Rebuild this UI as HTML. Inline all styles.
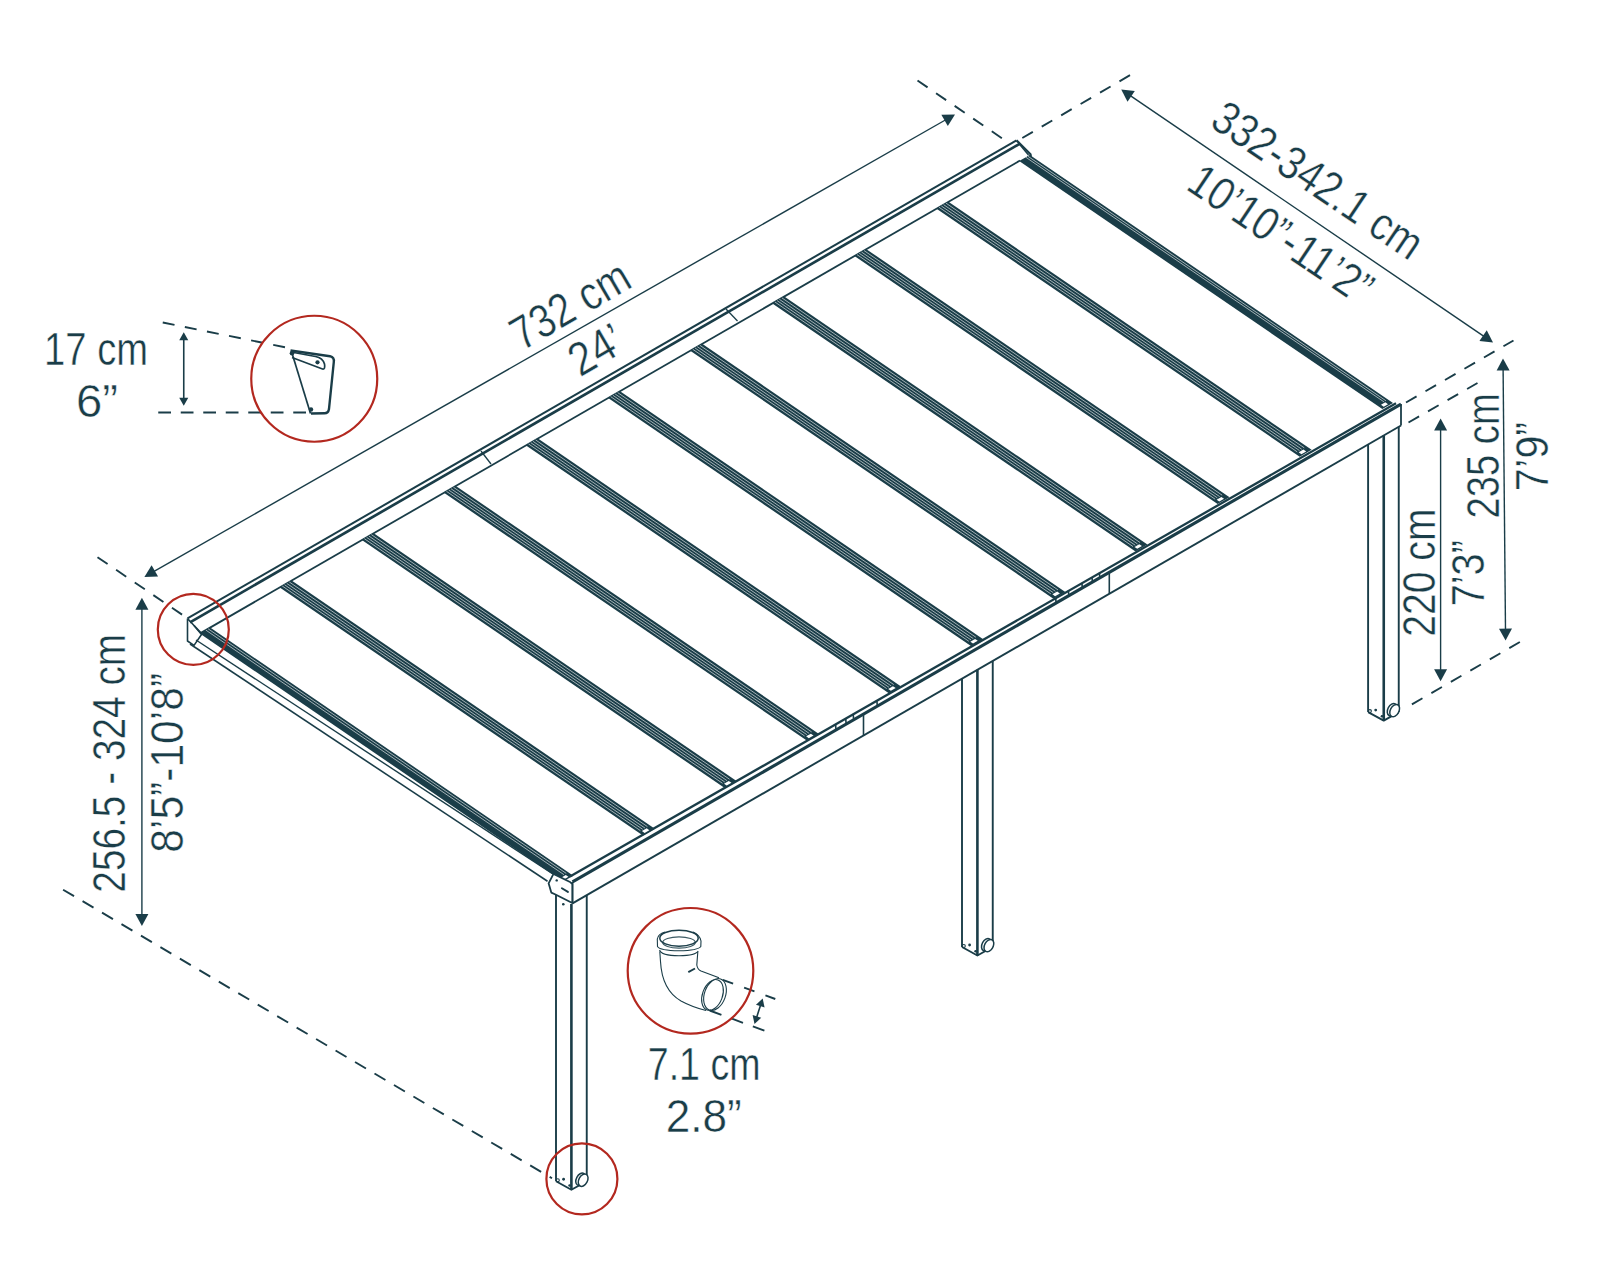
<!DOCTYPE html>
<html><head><meta charset="utf-8"><style>
html,body{margin:0;padding:0;background:#fff;}
svg{display:block;}
</style></head><body>
<svg width="1600" height="1280" viewBox="0 0 1600 1280">
<rect width="1600" height="1280" fill="#fff"/>
<line x1="187.5" y1="618.46" x2="1016.5" y2="140.38" stroke="#1a3d48" stroke-width="2.0" />
<line x1="190" y1="622.32" x2="1020" y2="143.66" stroke="#1a3d48" stroke-width="2.7" />
<line x1="201" y1="632.88" x2="1020" y2="160.56" stroke="#1a3d48" stroke-width="1.8" />
<polyline points="1016.5,140.38 1030.5,154.2 1030.8,156.2 1027.5,157" fill="none" stroke="#1a3d48" stroke-width="2.2" stroke-linejoin="round" />
<line x1="1019.3" y1="144.07" x2="1028.5" y2="155" stroke="#1a3d48" stroke-width="1.4" />
<polyline points="187.5,618.46 187.5,641 194,645.4 201.5,634.5 194,625.5 187.5,618.46" fill="none" stroke="#1a3d48" stroke-width="1.6" stroke-linejoin="round" />
<line x1="194" y1="625.5" x2="201" y2="632.88" stroke="#1a3d48" stroke-width="1.6" />
<line x1="481" y1="451" x2="491" y2="464" stroke="#1a3d48" stroke-width="1.3" />
<line x1="726" y1="309" x2="737.5" y2="321" stroke="#1a3d48" stroke-width="1.3" />
<line x1="570" y1="876.6" x2="1396" y2="403.3" stroke="#1a3d48" stroke-width="2.3" />
<line x1="572.5" y1="881.93" x2="1401" y2="404.13" stroke="#1a3d48" stroke-width="3.1" />
<line x1="572.5" y1="903.33" x2="1401" y2="425.53" stroke="#1a3d48" stroke-width="1.9" />
<line x1="572.5" y1="881.93" x2="572.5" y2="903.33" stroke="#1a3d48" stroke-width="1.8" />
<line x1="1401" y1="404" x2="1401" y2="425.6" stroke="#1a3d48" stroke-width="1.8" />
<line x1="1109.3" y1="572.36" x2="1109.3" y2="593.76" stroke="#1a3d48" stroke-width="1.6" />
<line x1="1055.7" y1="597.97" x2="1056.1" y2="602.77" stroke="#1a3d48" stroke-width="1.6" />
<line x1="1068.4" y1="590.64" x2="1068.8" y2="595.44" stroke="#1a3d48" stroke-width="1.6" />
<line x1="1081.9" y1="582.86" x2="1082.3" y2="587.66" stroke="#1a3d48" stroke-width="1.6" />
<line x1="1092" y1="577.03" x2="1092.4" y2="581.83" stroke="#1a3d48" stroke-width="1.6" />
<line x1="1099.4" y1="572.77" x2="1099.8" y2="577.57" stroke="#1a3d48" stroke-width="1.6" />
<line x1="835.6" y1="724.9" x2="836" y2="729.7" stroke="#1a3d48" stroke-width="1.6" />
<line x1="845.75" y1="719.05" x2="846.15" y2="723.85" stroke="#1a3d48" stroke-width="1.6" />
<line x1="853.25" y1="714.72" x2="853.65" y2="719.52" stroke="#1a3d48" stroke-width="1.6" />
<line x1="876.9" y1="701.08" x2="877.3" y2="705.88" stroke="#1a3d48" stroke-width="1.6" />
<line x1="863.5" y1="714.11" x2="863.5" y2="735.51" stroke="#1a3d48" stroke-width="1.6" />
<polygon points="948.45,201.82 1311.63,449.87 1299.72,456.74 936.55,208.69" fill="#1a3d48" stroke="none" stroke-width="0"/>
<line x1="946.07" y1="203.2" x2="1304.25" y2="447.83" stroke="#ffffff" stroke-width="0.8" opacity="0.75"/>
<line x1="943.57" y1="204.64" x2="1301.75" y2="449.27" stroke="#ffffff" stroke-width="0.8" opacity="0.75"/>
<line x1="941.31" y1="205.94" x2="1299.49" y2="450.58" stroke="#ffffff" stroke-width="0.8" opacity="0.75"/>
<line x1="939.05" y1="207.25" x2="1297.22" y2="451.88" stroke="#ffffff" stroke-width="0.8" opacity="0.75"/>
<polygon points="1303.46,449.54 1298.7,452.29 1301.4,454.13 1306.16,451.39" fill="#ffffff" stroke="none" stroke-width="0"/>
<polygon points="866.35,249.17 1229.53,497.22 1217.62,504.09 854.45,256.04" fill="#1a3d48" stroke="none" stroke-width="0"/>
<line x1="863.97" y1="250.54" x2="1222.15" y2="495.18" stroke="#ffffff" stroke-width="0.8" opacity="0.75"/>
<line x1="861.47" y1="251.99" x2="1219.65" y2="496.62" stroke="#ffffff" stroke-width="0.8" opacity="0.75"/>
<line x1="859.21" y1="253.29" x2="1217.39" y2="497.92" stroke="#ffffff" stroke-width="0.8" opacity="0.75"/>
<line x1="856.95" y1="254.59" x2="1215.12" y2="499.23" stroke="#ffffff" stroke-width="0.8" opacity="0.75"/>
<polygon points="1221.36,496.89 1216.6,499.64 1219.3,501.48 1224.06,498.74" fill="#ffffff" stroke="none" stroke-width="0"/>
<polygon points="784.25,296.52 1147.43,544.57 1135.52,551.43 772.35,303.38" fill="#1a3d48" stroke="none" stroke-width="0"/>
<line x1="781.87" y1="297.89" x2="1140.05" y2="542.53" stroke="#ffffff" stroke-width="0.8" opacity="0.75"/>
<line x1="779.37" y1="299.33" x2="1137.55" y2="543.97" stroke="#ffffff" stroke-width="0.8" opacity="0.75"/>
<line x1="777.11" y1="300.64" x2="1135.29" y2="545.27" stroke="#ffffff" stroke-width="0.8" opacity="0.75"/>
<line x1="774.85" y1="301.94" x2="1133.02" y2="546.58" stroke="#ffffff" stroke-width="0.8" opacity="0.75"/>
<polygon points="1139.26,544.24 1134.5,546.99 1137.2,548.83 1141.96,546.08" fill="#ffffff" stroke="none" stroke-width="0"/>
<polygon points="702.15,343.86 1065.33,591.91 1053.42,598.78 690.25,350.73" fill="#1a3d48" stroke="none" stroke-width="0"/>
<line x1="699.77" y1="345.24" x2="1057.95" y2="589.87" stroke="#ffffff" stroke-width="0.8" opacity="0.75"/>
<line x1="697.27" y1="346.68" x2="1055.45" y2="591.31" stroke="#ffffff" stroke-width="0.8" opacity="0.75"/>
<line x1="695.01" y1="347.98" x2="1053.19" y2="592.62" stroke="#ffffff" stroke-width="0.8" opacity="0.75"/>
<line x1="692.75" y1="349.29" x2="1050.92" y2="593.92" stroke="#ffffff" stroke-width="0.8" opacity="0.75"/>
<polygon points="1057.16,591.59 1052.4,594.33 1055.1,596.18 1059.86,593.43" fill="#ffffff" stroke="none" stroke-width="0"/>
<polygon points="620.05,391.21 983.23,639.26 971.32,646.13 608.15,398.08" fill="#1a3d48" stroke="none" stroke-width="0"/>
<line x1="617.67" y1="392.58" x2="975.85" y2="637.22" stroke="#ffffff" stroke-width="0.8" opacity="0.75"/>
<line x1="615.17" y1="394.03" x2="973.35" y2="638.66" stroke="#ffffff" stroke-width="0.8" opacity="0.75"/>
<line x1="612.91" y1="395.33" x2="971.09" y2="639.97" stroke="#ffffff" stroke-width="0.8" opacity="0.75"/>
<line x1="610.65" y1="396.64" x2="968.82" y2="641.27" stroke="#ffffff" stroke-width="0.8" opacity="0.75"/>
<polygon points="975.06,638.93 970.3,641.68 973,643.52 977.76,640.78" fill="#ffffff" stroke="none" stroke-width="0"/>
<polygon points="537.95,438.56 901.13,686.61 889.22,693.48 526.05,445.43" fill="#1a3d48" stroke="none" stroke-width="0"/>
<line x1="535.57" y1="439.93" x2="893.75" y2="684.57" stroke="#ffffff" stroke-width="0.8" opacity="0.75"/>
<line x1="533.07" y1="441.37" x2="891.25" y2="686.01" stroke="#ffffff" stroke-width="0.8" opacity="0.75"/>
<line x1="530.81" y1="442.68" x2="888.99" y2="687.31" stroke="#ffffff" stroke-width="0.8" opacity="0.75"/>
<line x1="528.55" y1="443.98" x2="886.72" y2="688.62" stroke="#ffffff" stroke-width="0.8" opacity="0.75"/>
<polygon points="892.96,686.28 888.2,689.03 890.9,690.87 895.66,688.12" fill="#ffffff" stroke="none" stroke-width="0"/>
<polygon points="455.85,485.91 819.03,733.95 807.12,740.82 443.95,492.77" fill="#1a3d48" stroke="none" stroke-width="0"/>
<line x1="453.47" y1="487.28" x2="811.65" y2="731.91" stroke="#ffffff" stroke-width="0.8" opacity="0.75"/>
<line x1="450.97" y1="488.72" x2="809.15" y2="733.36" stroke="#ffffff" stroke-width="0.8" opacity="0.75"/>
<line x1="448.71" y1="490.03" x2="806.89" y2="734.66" stroke="#ffffff" stroke-width="0.8" opacity="0.75"/>
<line x1="446.45" y1="491.33" x2="804.62" y2="735.96" stroke="#ffffff" stroke-width="0.8" opacity="0.75"/>
<polygon points="810.86,733.63 806.1,736.37 808.8,738.22 813.56,735.47" fill="#ffffff" stroke="none" stroke-width="0"/>
<polygon points="373.75,533.25 736.93,781.3 725.02,788.17 361.85,540.12" fill="#1a3d48" stroke="none" stroke-width="0"/>
<line x1="371.37" y1="534.63" x2="729.55" y2="779.26" stroke="#ffffff" stroke-width="0.8" opacity="0.75"/>
<line x1="368.87" y1="536.07" x2="727.05" y2="780.7" stroke="#ffffff" stroke-width="0.8" opacity="0.75"/>
<line x1="366.61" y1="537.37" x2="724.79" y2="782.01" stroke="#ffffff" stroke-width="0.8" opacity="0.75"/>
<line x1="364.35" y1="538.68" x2="722.52" y2="783.31" stroke="#ffffff" stroke-width="0.8" opacity="0.75"/>
<polygon points="728.76,780.97 724,783.72 726.7,785.56 731.46,782.82" fill="#ffffff" stroke="none" stroke-width="0"/>
<polygon points="291.65,580.6 654.83,828.65 642.92,835.52 279.75,587.47" fill="#1a3d48" stroke="none" stroke-width="0"/>
<line x1="289.27" y1="581.97" x2="647.45" y2="826.61" stroke="#ffffff" stroke-width="0.8" opacity="0.75"/>
<line x1="286.77" y1="583.41" x2="644.95" y2="828.05" stroke="#ffffff" stroke-width="0.8" opacity="0.75"/>
<line x1="284.51" y1="584.72" x2="642.69" y2="829.35" stroke="#ffffff" stroke-width="0.8" opacity="0.75"/>
<line x1="282.25" y1="586.02" x2="640.42" y2="830.66" stroke="#ffffff" stroke-width="0.8" opacity="0.75"/>
<polygon points="646.66,828.32 641.9,831.07 644.6,832.91 649.36,830.16" fill="#ffffff" stroke="none" stroke-width="0"/>
<polygon points="1029.86,154.88 1393.04,402.93 1382.32,409.11 1019.14,161.06" fill="#1a3d48" stroke="none" stroke-width="0"/>
<line x1="1027.72" y1="156.11" x2="1385.89" y2="400.75" stroke="#ffffff" stroke-width="0.8" opacity="0.75"/>
<line x1="1025.79" y1="157.23" x2="1383.96" y2="401.86" stroke="#ffffff" stroke-width="0.8" opacity="0.75"/>
<polygon points="1385.28,402.36 1381,404.83 1383.7,406.67 1387.98,404.2" fill="#ffffff" stroke="none" stroke-width="0"/>
<polygon points="210.16,627.6 573.34,875.65 563.02,881.6 199.84,633.55" fill="#1a3d48" stroke="none" stroke-width="0"/>
<line x1="208.1" y1="628.79" x2="566.27" y2="873.42" stroke="#ffffff" stroke-width="0.8" opacity="0.75"/>
<line x1="205.83" y1="630.1" x2="564" y2="874.73" stroke="#ffffff" stroke-width="0.8" opacity="0.75"/>
<polygon points="565.72,875 561.6,877.38 564.3,879.22 568.42,876.84" fill="#ffffff" stroke="none" stroke-width="0"/>
<line x1="196" y1="640" x2="552.5" y2="873.75" stroke="#1a3d48" stroke-width="1.4" />
<line x1="190" y1="644" x2="547.5" y2="881.25" stroke="#1a3d48" stroke-width="1.6" />
<line x1="556" y1="895" x2="556" y2="1181.25" stroke="#1a3d48" stroke-width="1.9" />
<line x1="571.4" y1="903.96" x2="571.4" y2="1189.75" stroke="#1a3d48" stroke-width="2.6" />
<line x1="586.75" y1="895.11" x2="586.75" y2="1181.25" stroke="#1a3d48" stroke-width="1.9" />
<polyline points="556,1181.25 571.4,1189.75 586.75,1181.25" fill="none" stroke="#1a3d48" stroke-width="1.9" stroke-linejoin="round" />
<ellipse cx="580.65" cy="1179.3" rx="4.3" ry="6.6" transform="rotate(28 580.65 1179.3)" fill="#fff" stroke="#1a3d48" stroke-width="1.5"/>
<ellipse cx="583.15" cy="1180.2" rx="4.3" ry="6.6" transform="rotate(28 583.15 1180.2)" fill="#fff" stroke="#1a3d48" stroke-width="1.5"/>
<circle cx="557.8" cy="1180.25" r="1.5" fill="none" stroke="#1a3d48" stroke-width="1.1"/>
<circle cx="563.6" cy="1179.25" r="1.4" fill="#1a3d48"/>
<circle cx="569.6" cy="1185.45" r="1.3" fill="#1a3d48"/>
<line x1="962" y1="678.7" x2="962" y2="947" stroke="#1a3d48" stroke-width="1.9" />
<line x1="977.4" y1="669.82" x2="977.4" y2="955.5" stroke="#1a3d48" stroke-width="2.6" />
<line x1="992.75" y1="660.97" x2="992.75" y2="947" stroke="#1a3d48" stroke-width="1.9" />
<polyline points="962,947 977.4,955.5 992.75,947" fill="none" stroke="#1a3d48" stroke-width="1.9" stroke-linejoin="round" />
<ellipse cx="986.4" cy="944.7" rx="4.3" ry="6.6" transform="rotate(28 986.4 944.7)" fill="#fff" stroke="#1a3d48" stroke-width="1.5"/>
<ellipse cx="988.9" cy="945.6" rx="4.3" ry="6.6" transform="rotate(28 988.9 945.6)" fill="#fff" stroke="#1a3d48" stroke-width="1.5"/>
<circle cx="963.8" cy="946" r="1.5" fill="none" stroke="#1a3d48" stroke-width="1.1"/>
<circle cx="969.6" cy="945" r="1.4" fill="#1a3d48"/>
<circle cx="975.6" cy="951.2" r="1.3" fill="#1a3d48"/>
<line x1="1368.1" y1="444.51" x2="1368.1" y2="712.1" stroke="#1a3d48" stroke-width="1.9" />
<line x1="1383.75" y1="435.48" x2="1383.75" y2="720.6" stroke="#1a3d48" stroke-width="2.6" />
<line x1="1398.75" y1="426.83" x2="1398.75" y2="712.1" stroke="#1a3d48" stroke-width="1.9" />
<polyline points="1368.1,712.1 1383.75,720.6 1398.75,712.1" fill="none" stroke="#1a3d48" stroke-width="1.9" stroke-linejoin="round" />
<ellipse cx="1392.15" cy="709.7" rx="4.3" ry="6.6" transform="rotate(28 1392.15 709.7)" fill="#fff" stroke="#1a3d48" stroke-width="1.5"/>
<ellipse cx="1394.65" cy="710.6" rx="4.3" ry="6.6" transform="rotate(28 1394.65 710.6)" fill="#fff" stroke="#1a3d48" stroke-width="1.5"/>
<circle cx="1369.9" cy="711.1" r="1.5" fill="none" stroke="#1a3d48" stroke-width="1.1"/>
<circle cx="1375.7" cy="710.1" r="1.4" fill="#1a3d48"/>
<circle cx="1381.95" cy="716.3" r="1.3" fill="#1a3d48"/>
<polygon points="553.5,873.9 570.5,882.3 572.3,884 572.3,903 555.5,894.5 551.3,892.6 548.6,883.3" fill="#fff" stroke="#1a3d48" stroke-width="1.8" stroke-linejoin="round"/>
<circle cx="556.7" cy="880.4" r="1.2" fill="#1a3d48"/>
<line x1="561.9" y1="888.2" x2="567.9" y2="891.9" stroke="#1a3d48" stroke-width="1.9" stroke-linecap="round"/>
<circle cx="563.3" cy="904.3" r="1.3" fill="#1a3d48"/>
<line x1="152.74" y1="572.14" x2="946.66" y2="119.26" stroke="#1a3d48" stroke-width="1.4" />
<polygon points="144.4,576.9 151.6,565.31 158.04,576.6" fill="#1a3d48" stroke="none" stroke-width="0"/>
<polygon points="955,114.5 947.8,126.09 941.36,114.8" fill="#1a3d48" stroke="none" stroke-width="0"/>
<line x1="97.5" y1="557.2" x2="185" y2="616.6" stroke="#1a3d48" stroke-width="1.9" stroke-dasharray="12.2 10.3" stroke-dashoffset="0"/>
<line x1="917.5" y1="80.5" x2="1003.75" y2="139.5" stroke="#1a3d48" stroke-width="1.9" stroke-dasharray="12.2 10.3" stroke-dashoffset="0"/>
<line x1="1129.19" y1="94.9" x2="1485.06" y2="337.1" stroke="#1a3d48" stroke-width="1.4" />
<polygon points="1121.25,89.5 1134.83,90.88 1127.51,101.63" fill="#1a3d48" stroke="none" stroke-width="0"/>
<polygon points="1493,342.5 1479.42,341.12 1486.74,330.37" fill="#1a3d48" stroke="none" stroke-width="0"/>
<line x1="1022.3" y1="138" x2="1130.3" y2="75" stroke="#1a3d48" stroke-width="1.9" stroke-dasharray="12.2 10.3" stroke-dashoffset="0"/>
<line x1="1406" y1="402.5" x2="1513.5" y2="340.5" stroke="#1a3d48" stroke-width="1.9" stroke-dasharray="12.2 10.3" stroke-dashoffset="0"/>
<line x1="1503.09" y1="368.1" x2="1505.51" y2="631" stroke="#1a3d48" stroke-width="1.4" />
<polygon points="1503,358.5 1509.61,370.44 1496.61,370.56" fill="#1a3d48" stroke="none" stroke-width="0"/>
<polygon points="1505.6,640.6 1498.99,628.66 1511.99,628.54" fill="#1a3d48" stroke="none" stroke-width="0"/>
<line x1="1440.6" y1="428.1" x2="1440.6" y2="671.65" stroke="#1a3d48" stroke-width="1.4" />
<polygon points="1440.6,418.5 1447.1,430.5 1434.1,430.5" fill="#1a3d48" stroke="none" stroke-width="0"/>
<polygon points="1440.6,681.25 1434.1,669.25 1447.1,669.25" fill="#1a3d48" stroke="none" stroke-width="0"/>
<line x1="1408.5" y1="422.5" x2="1477.5" y2="383" stroke="#1a3d48" stroke-width="1.9" stroke-dasharray="12.2 10.3" stroke-dashoffset="0"/>
<line x1="1411.9" y1="704.4" x2="1520" y2="641.9" stroke="#1a3d48" stroke-width="1.9" stroke-dasharray="12.2 10.3" stroke-dashoffset="0"/>
<line x1="141.9" y1="607.4" x2="141.9" y2="916.3" stroke="#1a3d48" stroke-width="1.4" />
<polygon points="141.9,597.8 148.4,609.8 135.4,609.8" fill="#1a3d48" stroke="none" stroke-width="0"/>
<polygon points="141.9,925.9 135.4,913.9 148.4,913.9" fill="#1a3d48" stroke="none" stroke-width="0"/>
<line x1="63.1" y1="889.7" x2="552" y2="1178.3" stroke="#1a3d48" stroke-width="1.9" stroke-dasharray="12.7 9.9" stroke-dashoffset="0"/>
<line x1="183.75" y1="338.65" x2="183.75" y2="399.35" stroke="#1a3d48" stroke-width="1.6" />
<polygon points="183.75,332.25 188.25,340.25 179.25,340.25" fill="#1a3d48" stroke="none" stroke-width="0"/>
<polygon points="183.75,405.75 179.25,397.75 188.25,397.75" fill="#1a3d48" stroke="none" stroke-width="0"/>
<line x1="162.75" y1="322.5" x2="285" y2="347.25" stroke="#1a3d48" stroke-width="1.9" stroke-dasharray="12 10.54" stroke-dashoffset="0"/>
<line x1="158.25" y1="412.5" x2="307.5" y2="412.5" stroke="#1a3d48" stroke-width="1.9" stroke-dasharray="12.75 9.75" stroke-dashoffset="0"/>
<path d="M290.5,350.5 L330,356.2 Q334.5,357.5 333.8,362 L329,409 Q328.3,413.2 324.5,413.2 L311,413.5" fill="none" stroke="#1a3d48" stroke-width="2.4" stroke-linejoin="round"/>
<path d="M291.5,351.5 L310.5,413.5" fill="none" stroke="#1a3d48" stroke-width="1.7"/>
<path d="M292,357.5 L322.5,369 Q325.5,369.5 324.5,364 Q323,358 315.5,356.5 L291,352" fill="none" stroke="#1a3d48" stroke-width="1.7" stroke-linejoin="round"/>
<circle cx="292" cy="353.3" r="2.3" fill="#1a3d48"/>
<circle cx="317.5" cy="362.3" r="2.1" fill="#1a3d48"/>
<circle cx="311" cy="409.5" r="2.2" fill="#1a3d48"/>
<g fill="none" stroke="#1a3d48" stroke-width="1.1">
<path d="M657.3,939 L657.5,946.5 Q660,950.5 679,950.8 Q698,950.5 700.8,946.5 L701,941"/>
<path d="M659.6,950 Q661,955.5 679,955.8 Q696,955.5 698.2,951"/>
<ellipse cx="679" cy="938.2" rx="19.2" ry="8" stroke-width="1.5"/>
<ellipse cx="679" cy="942.5" rx="16.3" ry="5.6" stroke-width="1.2" opacity="0.85"/>
<path d="M657.3,939 Q658,934 665,932"/>
<path d="M701,941 Q700,935 693,932"/>
<path d="M659.8,951.5 L660.5,961.5 Q662,990 681,1001 Q692,1007 706,1010.5"/>
<path d="M697.8,952 L696.8,965 Q697.5,969.5 701,971 L719,977.8"/>
<ellipse cx="715" cy="994.5" rx="10.5" ry="16.5" transform="rotate(20 715 994.5)"/>
<ellipse cx="712.5" cy="995" rx="10" ry="16" transform="rotate(20 712.5 995)"/>
</g>
<line x1="688.3" y1="972.2" x2="695" y2="968.5" stroke="#1a3d48" stroke-width="1.9" />
<line x1="722.8" y1="979.8" x2="775.3" y2="999" stroke="#1a3d48" stroke-width="1.9" stroke-dasharray="11 11.7" stroke-dashoffset="0"/>
<line x1="709.7" y1="1010.5" x2="764.4" y2="1030.7" stroke="#1a3d48" stroke-width="1.9" stroke-dasharray="12.5 10.5" stroke-dashoffset="0"/>
<line x1="760.75" y1="1004.5" x2="756.45" y2="1018" stroke="#1a3d48" stroke-width="1.6" />
<polygon points="762.7,998.4 764.56,1007.39 755.98,1004.65" fill="#1a3d48" stroke="none" stroke-width="0"/>
<polygon points="754.5,1024.1 752.64,1015.11 761.22,1017.85" fill="#1a3d48" stroke="none" stroke-width="0"/>
<circle cx="314.25" cy="378.75" r="63" fill="none" stroke="#b3281f" stroke-width="2.2"/>
<circle cx="193.3" cy="629.4" r="35.5" fill="none" stroke="#b3281f" stroke-width="2.2"/>
<circle cx="690.5" cy="970.8" r="62.8" fill="none" stroke="#b3281f" stroke-width="2.2"/>
<circle cx="581.9" cy="1178.9" r="35.5" fill="none" stroke="#b3281f" stroke-width="2.2"/>
<g font-family="Liberation Sans, sans-serif" font-size="47" fill="#1a3d48" stroke="#fff" stroke-width="0.45">
<text transform="translate(44.09 365.20) rotate(0.00)" x="0" y="0" textLength="103.92" lengthAdjust="spacingAndGlyphs">17 cm</text>
<text transform="translate(75.90 416.50) rotate(0.00)" x="0" y="0" textLength="42.03" lengthAdjust="spacingAndGlyphs">6&#8221;</text>
<text transform="translate(647.77 1079.90) rotate(0.00)" x="0" y="0" textLength="112.81" lengthAdjust="spacingAndGlyphs">7.1 cm</text>
<text transform="translate(665.68 1131.70) rotate(0.00)" x="0" y="0" textLength="76.04" lengthAdjust="spacingAndGlyphs">2.8&#8221;</text>
<text transform="translate(522.05 351.42) rotate(-30.20)" x="0" y="0" textLength="129.74" lengthAdjust="spacingAndGlyphs">732 cm</text>
<text transform="translate(579.99 377.46) rotate(-30.20)" x="0" y="0" textLength="55.69" lengthAdjust="spacingAndGlyphs">24&#8217;</text>
<text transform="translate(1208.14 125.45) rotate(34.00)" x="0" y="0" textLength="243.14" lengthAdjust="spacingAndGlyphs">332-342.1 cm</text>
<text transform="translate(1184.40 188.42) rotate(34.00)" x="0" y="0" textLength="210.96" lengthAdjust="spacingAndGlyphs">10&#8217;10&#8221;-11&#8217;2&#8221;</text>
<text transform="translate(1498.60 518.42) rotate(-90.00)" x="0" y="0" textLength="125.13" lengthAdjust="spacingAndGlyphs">235 cm</text>
<text transform="translate(1547.60 491.13) rotate(-90.00)" x="0" y="0" textLength="69.25" lengthAdjust="spacingAndGlyphs">7&#8217;9&#8221;</text>
<text transform="translate(1435.40 636.77) rotate(-90.00)" x="0" y="0" textLength="128.24" lengthAdjust="spacingAndGlyphs">220 cm</text>
<text transform="translate(1484.10 606.34) rotate(-90.00)" x="0" y="0" textLength="66.19" lengthAdjust="spacingAndGlyphs">7&#8217;3&#8221;</text>
<text transform="translate(124.80 892.65) rotate(-90.00)" x="0" y="0" textLength="258.81" lengthAdjust="spacingAndGlyphs">256.5 - 324 cm</text>
<text transform="translate(182.90 852.65) rotate(-90.00)" x="0" y="0" textLength="179.71" lengthAdjust="spacingAndGlyphs">8&#8217;5&#8221;-10&#8217;8&#8221;</text>
</g>
</svg></body></html>
